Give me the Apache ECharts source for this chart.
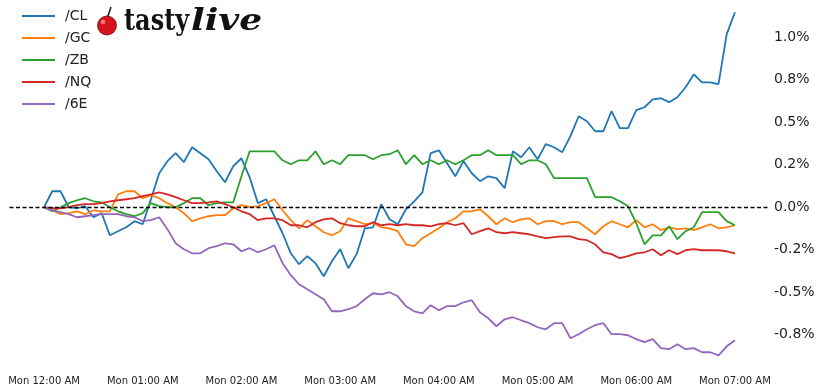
<!DOCTYPE html>
<html><head><meta charset="utf-8">
<script src="https://cdn.jsdelivr.net/npm/echarts@6/dist/echarts.min.js"></script>
<style>html,body{margin:0;padding:0;background:#fff}#c{width:820px;height:390px}</style>
</head><body><div id="c"></div>
<script>
// Percent change since Mon 12:00 AM, sampled every 5 minutes
const seriesNames = ['/CL', '/GC', '/ZB', '/NQ', '/6E'];
const stepMinutes = 5;

const cl = [0,0.094,0.094,0,-0.006,0.006,-0.059,-0.035,-0.165,-0.141,-0.118,-0.082,-0.100,0.047,0.200,0.271,0.318,0.265,0.353,0.318,0.282,0.212,0.147,0.241,0.288,0.176,0.024,0.047,-0.053,-0.153,-0.271,-0.335,-0.288,-0.329,-0.406,-0.318,-0.247,-0.359,-0.276,-0.124,-0.118,0.018,-0.071,-0.100,-0.012,0.035,0.088,0.318,0.335,0.259,0.182,0.271,0.200,0.153,0.182,0.171,0.112,0.329,0.294,0.353,0.282,0.371,0.353,0.324,0.418,0.535,0.506,0.447,0.447,0.565,0.465,0.465,0.571,0.588,0.635,0.641,0.618,0.647,0.706,0.782,0.735,0.735,0.724,1.018,1.147];
const gc = [0,-0.018,-0.041,-0.035,-0.024,-0.041,-0.018,-0.024,-0.024,0.076,0.094,0.094,0.053,0.071,0.053,0.024,0,-0.035,-0.082,-0.065,-0.053,-0.047,-0.047,-0.006,0.012,0,0.006,0.024,0.047,-0.018,-0.076,-0.124,-0.076,-0.112,-0.147,-0.165,-0.141,-0.065,-0.082,-0.100,-0.094,-0.118,-0.124,-0.141,-0.218,-0.229,-0.182,-0.153,-0.124,-0.088,-0.065,-0.024,-0.024,-0.012,-0.053,-0.100,-0.065,-0.088,-0.071,-0.065,-0.100,-0.082,-0.082,-0.100,-0.088,-0.088,-0.124,-0.159,-0.112,-0.082,-0.100,-0.118,-0.076,-0.118,-0.100,-0.135,-0.118,-0.129,-0.124,-0.135,-0.118,-0.100,-0.124,-0.118,-0.106];
const zb = [0,-0.024,0,0.024,0.041,0.053,0.035,0.029,0,-0.024,-0.041,-0.053,-0.035,0.024,0.006,0,0,0.024,0.053,0.053,0.012,0.024,0.029,0.029,0.182,0.329,0.329,0.329,0.329,0.276,0.253,0.276,0.276,0.329,0.253,0.276,0.253,0.306,0.306,0.306,0.282,0.306,0.312,0.335,0.253,0.306,0.253,0.276,0.253,0.276,0.253,0.276,0.306,0.306,0.335,0.306,0.306,0.306,0.253,0.276,0.276,0.253,0.171,0.171,0.171,0.171,0.171,0.059,0.059,0.059,0.035,0.006,-0.094,-0.218,-0.165,-0.165,-0.112,-0.188,-0.141,-0.118,-0.029,-0.029,-0.029,-0.082,-0.106];
const nq = [0,-0.006,-0.006,0,0.012,0.018,0.018,0.024,0.035,0.041,0.047,0.053,0.065,0.076,0.088,0.076,0.059,0.041,0.024,0.024,0.029,0.035,0.018,0,-0.024,-0.041,-0.076,-0.065,-0.065,-0.076,-0.106,-0.106,-0.118,-0.088,-0.071,-0.065,-0.094,-0.106,-0.112,-0.112,-0.088,-0.106,-0.100,-0.106,-0.100,-0.106,-0.106,-0.112,-0.100,-0.094,-0.106,-0.094,-0.159,-0.141,-0.124,-0.147,-0.153,-0.147,-0.153,-0.159,-0.171,-0.182,-0.176,-0.171,-0.171,-0.188,-0.194,-0.218,-0.265,-0.276,-0.300,-0.288,-0.271,-0.265,-0.247,-0.282,-0.253,-0.276,-0.253,-0.247,-0.253,-0.253,-0.253,-0.259,-0.271];
const e6 = [0,-0.018,-0.029,-0.041,-0.059,-0.053,-0.047,-0.041,-0.041,-0.041,-0.053,-0.059,-0.082,-0.076,-0.059,-0.129,-0.212,-0.247,-0.271,-0.271,-0.241,-0.229,-0.212,-0.218,-0.259,-0.241,-0.265,-0.247,-0.224,-0.329,-0.400,-0.453,-0.482,-0.512,-0.541,-0.612,-0.612,-0.600,-0.582,-0.541,-0.506,-0.512,-0.500,-0.524,-0.582,-0.612,-0.624,-0.576,-0.606,-0.582,-0.582,-0.559,-0.547,-0.618,-0.653,-0.700,-0.659,-0.647,-0.665,-0.682,-0.706,-0.718,-0.682,-0.682,-0.771,-0.747,-0.718,-0.694,-0.682,-0.747,-0.747,-0.753,-0.776,-0.794,-0.776,-0.829,-0.835,-0.806,-0.835,-0.829,-0.853,-0.853,-0.871,-0.818,-0.782];

const xTickValues = [0, 60, 120, 180, 240, 300, 360, 420];
const xTickLabels = ['Mon 12:00 AM', 'Mon 01:00 AM', 'Mon 02:00 AM', 'Mon 03:00 AM', 'Mon 04:00 AM', 'Mon 05:00 AM', 'Mon 06:00 AM', 'Mon 07:00 AM'];
const yTickValues = [-0.75, -0.5, -0.25, 0, 0.25, 0.5, 0.75, 1.0];
const yTickLabels = ['-0.8%', '-0.5%', '-0.2%', '0.0%', '0.2%', '0.5%', '0.8%', '1.0%'];

const allValues = [cl, gc, zb, nq, e6];
const colors = ['#1f77b4', '#ff7f0e', '#2ca02c', '#d62728', '#9467bd'];

function pairs(arr) { return arr.map((v, i) => [i * stepMinutes, v]); }
function lookup(vals, labels, v) {
  let best = 0;
  for (let i = 0; i < vals.length; i++) if (Math.abs(vals[i] - v) < Math.abs(vals[best] - v)) best = i;
  return labels[best];
}

const chart = echarts.init(document.getElementById('c'), null, { renderer: 'canvas' });
const series = allValues.map((arr, k) => ({
  name: seriesNames[k], type: 'line', data: pairs(arr), symbol: 'none',
  lineStyle: { width: 1.8, color: colors[k] }, itemStyle: { color: colors[k] },
  animation: false
}));
series.push({
  name: 'zero', type: 'line', data: [], symbol: 'none', animation: false, z: 5,
  markLine: {
    silent: true, symbol: 'none', animation: false, label: { show: false },
    lineStyle: { color: '#000', width: 1.3, type: [4, 2.5] },
    data: [{ yAxis: 0 }]
  }
});

chart.setOption({
  backgroundColor: '#fff',
  animation: false,
  grid: { left: 9.5, right: 50.5, top: 0, bottom: 19.4 },
  legend: {
    data: seriesNames, orient: 'vertical', left: 22, top: 9, padding: 0,
    icon: 'rect', itemWidth: 33, itemHeight: 2, itemGap: 8,
    textStyle: { fontFamily: 'DejaVu Sans', fontSize: 14, color: '#222', lineHeight: 14, padding: [0, 0, 0, 5] }
  },
  xAxis: {
    type: 'value', min: -21, max: 441,
    axisLine: { show: false }, axisTick: { show: false }, splitLine: { show: false },
    axisLabel: {
      customValues: xTickValues, margin: 6,
      fontFamily: 'DejaVu Sans', fontSize: 10, color: '#222',
      formatter: v => lookup(xTickValues, xTickLabels, v)
    }
  },
  yAxis: {
    type: 'value', position: 'right', min: -0.961, max: 1.219,
    axisLine: { show: false }, axisTick: { show: false }, splitLine: { show: false },
    axisLabel: {
      customValues: yTickValues, margin: 4.5, align: 'left',
      fontFamily: 'DejaVu Sans', fontSize: 14, color: '#222',
      formatter: v => lookup(yTickValues, yTickLabels, v)
    }
  },
  graphic: [
    { type: 'line', shape: { x1: 107, y1: 19, x2: 111, y2: 7 }, style: { stroke: '#222', lineWidth: 1.6 }, z: 10 },
    { type: 'circle', shape: { cx: 107, cy: 25.5, r: 9.5 }, style: { fill: '#d4141c', stroke: '#7a0a0e', lineWidth: 0.8 }, z: 10 },
    { type: 'circle', shape: { cx: 103, cy: 22, r: 2.3 }, style: { fill: '#f57a7a' }, z: 11 },
    { type: 'text', left: 124, top: 7, z: 10, scaleX: 0.8, originX: 124,
      style: { text: 'tasty', font: 'bold 30px "DejaVu Serif"', fill: '#111' } },
    { type: 'text', left: 191, top: 7, z: 10, scaleX: 1.2, originX: 191,
      style: { text: 'live', font: 'italic bold 30px "DejaVu Serif"', fill: '#111' } }
  ],
  series: series
});
</script></body></html>
